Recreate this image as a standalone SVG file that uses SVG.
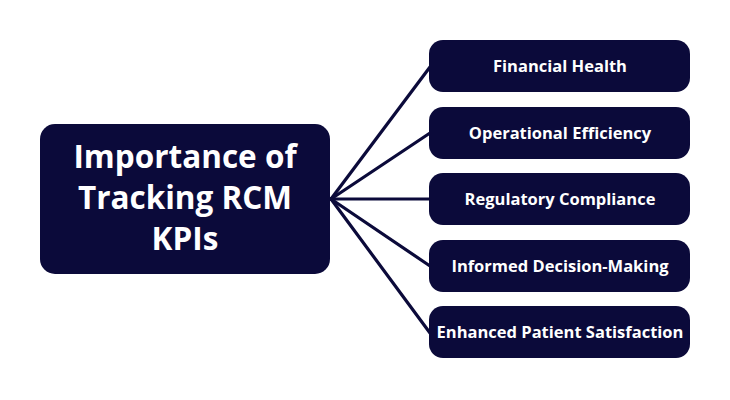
<svg xmlns="http://www.w3.org/2000/svg" width="730" height="400" viewBox="0 0 730 400">
<style>
.node{fill:#0b0a3a}
.main{font-family:"Open Sans","Liberation Sans",sans-serif;font-weight:700;font-size:31.5px;fill:#ffffff;text-anchor:middle}
.lbl{font-family:"Open Sans","Liberation Sans",sans-serif;font-weight:700;font-size:16.5px;fill:#ffffff;text-anchor:middle}
.conn{stroke:#0b0a3a;stroke-width:3.2;fill:none;stroke-linecap:round}
</style>
<rect width="730" height="400" fill="#ffffff"/>
<g id="connectors">
<line class="conn" x1="331" y1="199" x2="430" y2="67"/>
<line class="conn" x1="331" y1="199" x2="430" y2="133"/>
<line class="conn" x1="331" y1="199" x2="430" y2="199"/>
<line class="conn" x1="331" y1="199" x2="430" y2="266"/>
<line class="conn" x1="331" y1="199" x2="430" y2="333"/>
</g>
<g id="main">
<rect class="node" x="40" y="124" width="290" height="150" rx="15"/>
<text class="main" x="185" y="168">Importance of</text>
<text class="main" x="185" y="209">Tracking RCM</text>
<text class="main" x="185" y="250">KPIs</text>
</g>
<g id="n1">
<rect class="node" x="429" y="40" width="261" height="52" rx="14"/>
<text class="lbl" x="560" y="72">Financial Health</text>
</g>
<g id="n2">
<rect class="node" x="429" y="107" width="261" height="52" rx="14"/>
<text class="lbl" x="560" y="139">Operational Efficiency</text>
</g>
<g id="n3">
<rect class="node" x="429" y="173" width="261" height="52" rx="14"/>
<text class="lbl" x="560" y="205">Regulatory Compliance</text>
</g>
<g id="n4">
<rect class="node" x="429" y="240" width="261" height="52" rx="14"/>
<text class="lbl" x="560" y="272">Informed Decision-Making</text>
</g>
<g id="n5">
<rect class="node" x="429" y="306" width="261" height="52" rx="14"/>
<text class="lbl" x="560" y="338">Enhanced Patient Satisfaction</text>
</g>
</svg>
